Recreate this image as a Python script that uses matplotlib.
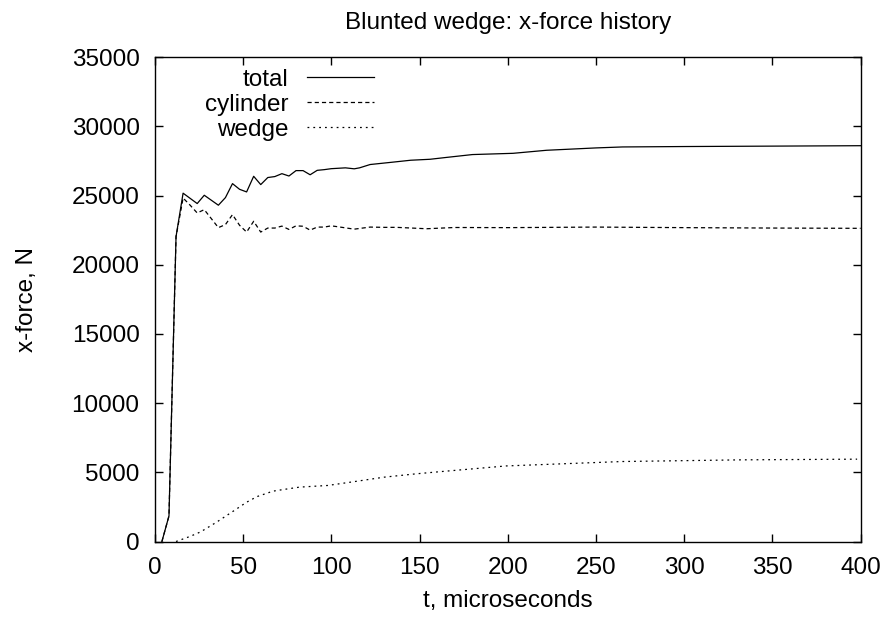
import matplotlib
matplotlib.use("Agg")
import matplotlib.pyplot as plt

# Time samples (microseconds) and x-force (N) for each component
t_total = [4, 8, 12, 16, 24, 28, 36, 40, 44, 48, 52, 56, 60, 64, 68, 72, 76,
           80, 84, 88, 92, 96, 100, 108, 113, 116, 122, 134, 145, 156, 165,
           180, 203, 222, 250, 265, 300, 350, 400]
f_total = [0, 1850, 22030, 25170, 24420, 25020, 24300, 24850, 25860, 25450,
           25260, 26390, 25790, 26300, 26370, 26580, 26410, 26800, 26800,
           26500, 26820, 26870, 26940, 27000, 26930, 27000, 27240, 27400,
           27550, 27620, 27750, 27960, 28050, 28270, 28440, 28510, 28540,
           28570, 28600]

t_cyl = [4, 8, 12, 16, 20, 24, 28, 32, 36, 40, 44, 48, 52, 56, 60, 64, 68,
         72, 76, 80, 84, 88, 92, 96, 100, 105, 113, 122, 130, 137, 154, 170,
         200, 250, 300, 350, 400]
f_cyl = [0, 1850, 22030, 24820, 24300, 23740, 23980, 23330, 22680, 22900,
         23620, 22850, 22360, 23140, 22360, 22650, 22650, 22790, 22550,
         22810, 22780, 22500, 22720, 22720, 22810, 22720, 22570, 22720,
         22700, 22700, 22600, 22690, 22680, 22720, 22680, 22650, 22630]

t_wedge = [12, 20, 26, 35, 45, 52, 58, 67, 73, 82, 98, 111, 130, 148, 162,
           199, 265, 332, 398]
f_wedge = [0, 370, 700, 1400, 2240, 2840, 3250, 3640, 3760, 3930, 4050, 4290,
           4650, 4890, 5050, 5460, 5780, 5900, 5950]

series_labels = ["total", "cylinder", "wedge"]
x_ticks = [0, 50, 100, 150, 200, 250, 300, 350, 400]
y_ticks = [0, 5000, 10000, 15000, 20000, 25000, 30000, 35000]

plt.rcParams["font.family"] = ["Liberation Sans", "DejaVu Sans"]
plt.rcParams["lines.scale_dashes"] = False

FS = 17.5
fig = plt.figure(figsize=(8.9, 6.21), dpi=100)
ax = fig.add_axes([0.174, 0.128, 0.793, 0.780])

ax.plot(t_total, f_total, color="black", lw=0.9, label=series_labels[0])
ax.plot(t_cyl, f_cyl, color="black", lw=0.9, dashes=(3.0, 2.2),
        label=series_labels[1])
ax.plot(t_wedge, f_wedge, color="black", lw=0.9, dashes=(1.3, 2.9),
        label=series_labels[2])

ax.set_xlim(0, 400)
ax.set_ylim(0, 35000)
ax.set_xticks(x_ticks)
ax.set_yticks(y_ticks)
ax.tick_params(direction="in", length=5.5, width=1.0, top=True, right=True,
               labelsize=FS, color="black")
ax.tick_params(axis="x", pad=11)
ax.tick_params(axis="y", pad=11)
for s in ax.spines.values():
    s.set_linewidth(1.0)
    s.set_color("black")

ax.set_title("Blunted wedge: x-force history", fontsize=FS, pad=20)
ax.set_xlabel("t, microseconds", fontsize=FS, labelpad=8)
ax.set_ylabel("x-force, N", fontsize=FS, labelpad=24)

ax.legend(loc="upper left", bbox_to_anchor=(0.047, 1.011), markerfirst=False,
          frameon=False, fontsize=FS, handlelength=2.75, handletextpad=0.77,
          labelspacing=0.12, borderaxespad=0.3)

fig.savefig("out.png", dpi=100)
